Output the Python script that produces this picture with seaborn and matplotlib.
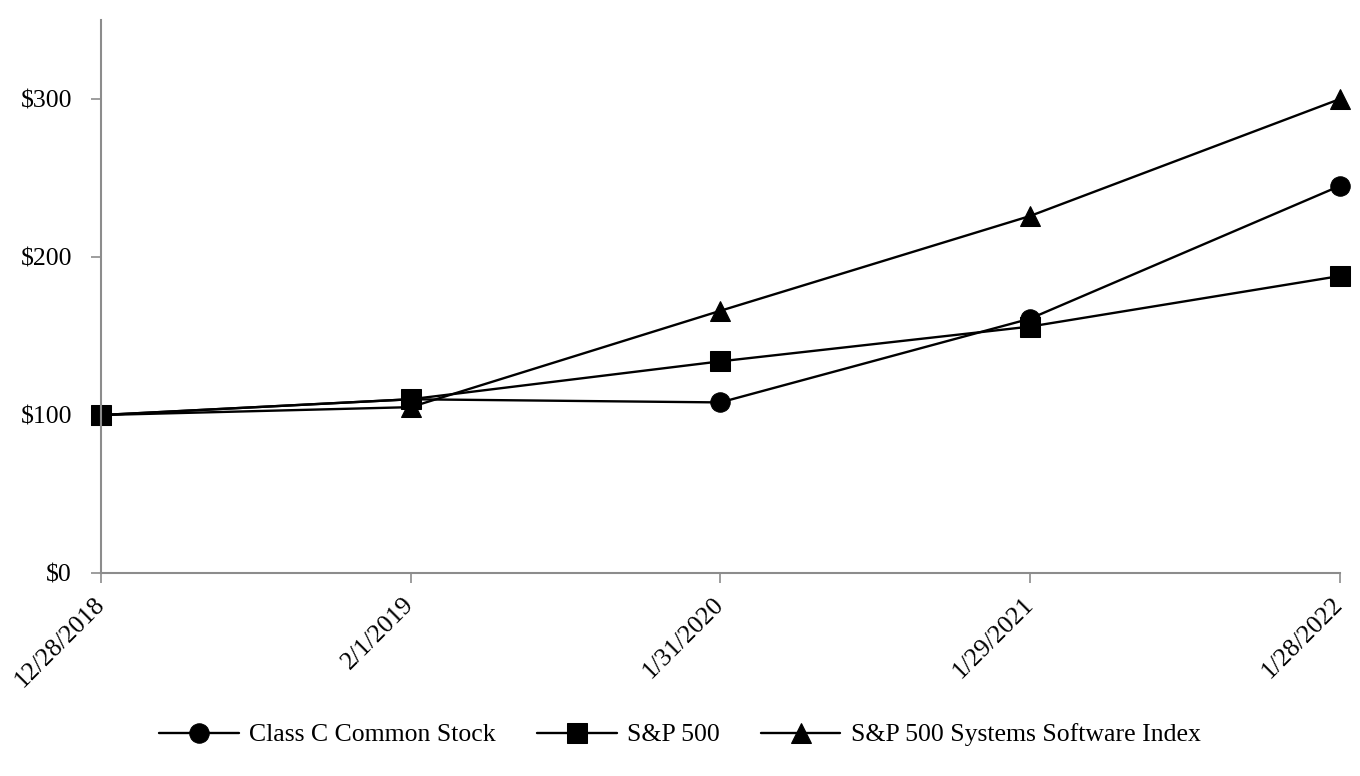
import numpy as np
import pandas as pd
import seaborn as sns
import matplotlib.pyplot as plt

dates = ['12/28/2018', '2/1/2019', '1/31/2020', '1/29/2021', '1/28/2022']
class_c = [100, 110, 108, 161, 245]
sp500 = [100, 110, 134, 156, 188]
software = [100, 105, 166, 226, 300]
series_names = ['Class C Common Stock', 'S&P 500', 'S&P 500 Systems Software Index']
yticks = [0, 100, 200, 300]

sns.set_style('white')
plt.rcParams['font.family'] = ['Liberation Serif', 'DejaVu Serif']
plt.rcParams['text.color'] = 'black'
plt.rcParams['xtick.color'] = 'black'
plt.rcParams['ytick.color'] = 'black'

df = pd.DataFrame({'Date': dates * 3,
                   'Value': class_c + sp500 + software,
                   'Series': [s for s in series_names for i in range(len(dates))]})

fig = plt.figure(figsize=(13.6, 7.76), dpi=100)
ax = fig.add_axes([0.0743, 0.2616, 0.9107, 0.7124])
sns.lineplot(data=df, x='Date', y='Value', style='Series', style_order=series_names,
             markers=['o', 's', '^'], dashes=False, color='black',
             markersize=14, linewidth=1.7, markeredgecolor='black',
             sort=False, ax=ax)
for line in ax.lines:
    line.set_clip_on(False)

ax.set_xlim(0, len(dates) - 1)
ax.set_ylim(0, 350)
ax.set_yticks(yticks)
ax.set_yticklabels(['${}'.format(v) for v in yticks], fontsize=18.5)
ax.set_xticks(range(len(dates)))
ax.set_xticklabels(dates, fontsize=18.5, rotation=45, ha='right', va='center',
                   rotation_mode='anchor')
ax.set_xlabel('')
ax.set_ylabel('')

for side in ['top', 'right']:
    ax.spines[side].set_visible(False)
for side in ['left', 'bottom']:
    ax.spines[side].set_color('#8c8c8c')
    ax.spines[side].set_linewidth(1.5)
ax.tick_params(axis='both', direction='out', length=7, width=1.2, color='#8c8c8c',
               labelcolor='black', bottom=True, left=True)
ax.tick_params(axis='x', pad=13)
ax.tick_params(axis='y', pad=14)

handles, labels = ax.get_legend_handles_labels()
ax.get_legend().remove()
fig.legend(handles, labels, loc='center', bbox_to_anchor=(0.5, 1 - 735 / 776), ncol=3,
           frameon=False, fontsize=18.5, handlelength=3.1, handletextpad=0.4,
           columnspacing=1.6)

fig.savefig('out.png', dpi=100)
